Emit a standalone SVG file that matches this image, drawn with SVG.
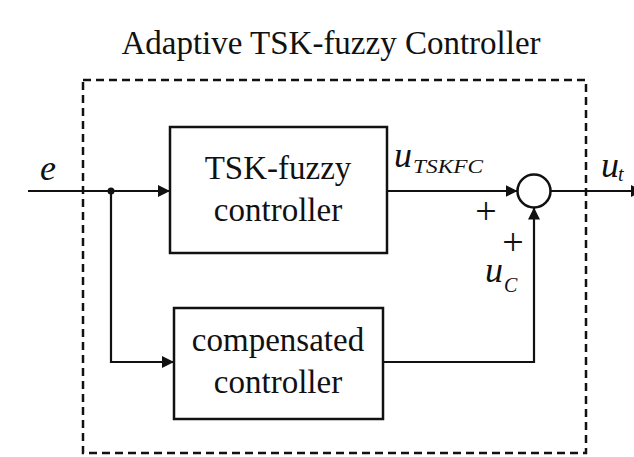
<svg xmlns="http://www.w3.org/2000/svg" width="634" height="457" viewBox="0 0 634 457">
<defs>
<marker id="arr" viewBox="0 0 12 12" refX="12" refY="6" markerWidth="12" markerHeight="12" markerUnits="userSpaceOnUse" orient="auto">
<path d="M0,0 L12,6 L0,12 Z" fill="#111"/>
</marker>
</defs>
<style>
.box{fill:#fff;stroke:#111;stroke-width:2.5}
.ln{fill:none;stroke:#111;stroke-width:2.2}
text{font-family:'Liberation Serif','DejaVu Serif',serif;fill:#111}
.lbl{font-size:33px;text-anchor:middle}
.it{font-style:italic}
.plus{font-size:38px;text-anchor:middle}
</style>
<rect width="634" height="457" fill="#fff"/>
<text x="331" y="54" class="lbl">Adaptive TSK-fuzzy Controller</text>
<g id="boundary">
<rect x="83" y="80" width="503" height="373" fill="none" stroke="#111" stroke-width="2.5" stroke-dasharray="8,5"/>
</g>
<g id="connectors">
<line x1="28" y1="191" x2="170" y2="191" class="ln" marker-end="url(#arr)"/>
<polyline points="111,191 111,362 174,362" class="ln" marker-end="url(#arr)"/>
<line x1="387" y1="191" x2="517.5" y2="191" class="ln" marker-end="url(#arr)"/>
<polyline points="383,362 534,362 534,207.5" class="ln" marker-end="url(#arr)"/>
<line x1="550.5" y1="191" x2="643" y2="191" class="ln" marker-end="url(#arr)"/>
<circle cx="111" cy="191" r="3.5" fill="#111"/>
</g>
<g id="tsk">
<rect x="170" y="127" width="217" height="126" class="box"/>
<text x="278" y="179" class="lbl">TSK-fuzzy</text>
<text x="278" y="221" class="lbl">controller</text>
</g>
<g id="comp">
<rect x="174" y="308" width="209" height="111" class="box"/>
<text x="278" y="351" class="lbl">compensated</text>
<text x="278" y="393" class="lbl">controller</text>
</g>
<g id="sum">
<circle cx="534" cy="191" r="16.5" fill="#fff" stroke="#111" stroke-width="2.5"/>
</g>
<g id="labels">
<text x="40" y="180" class="it" font-size="36">e</text>
<text x="394" y="167" class="it" font-size="36">u</text>
<text x="413" y="173" class="it" font-size="18" textLength="70" lengthAdjust="spacingAndGlyphs">TSKFC</text>
<text x="486" y="224" class="plus">+</text>
<text x="513" y="255" class="plus">+</text>
<text x="485" y="282" class="it" font-size="36">u</text>
<text x="504" y="292" class="it" font-size="20">C</text>
<text x="601" y="177" class="it" font-size="36">u</text>
<text x="618" y="181" class="it" font-size="20">t</text>
</g>
</svg>
